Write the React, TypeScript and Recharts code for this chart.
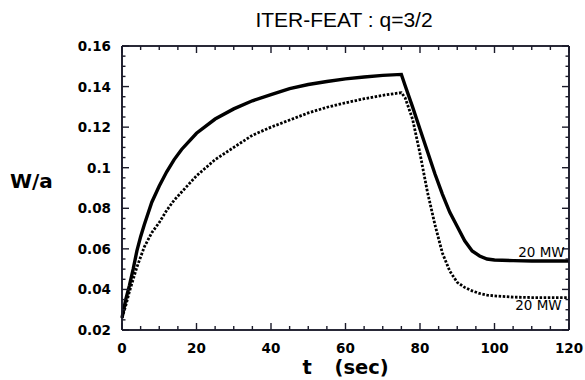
import { LineChart, Line, XAxis, YAxis, ReferenceDot, ReferenceLine } from 'recharts'

// time (sec)
const times = [
  0, 1, 2, 3, 4, 5, 6, 8, 10, 12, 14, 16, 20, 25, 30, 35, 40, 45, 50, 55, 60, 65, 70, 75,
  76, 78, 80, 82, 84, 86, 88, 90, 92, 94, 96, 98, 100, 105, 110, 115, 120,
]

// W/a, solid curve
const wSolid = [
  0.026, 0.035, 0.042, 0.05, 0.059, 0.066, 0.072, 0.083, 0.091, 0.098, 0.104, 0.109, 0.117,
  0.124, 0.129, 0.133, 0.136, 0.139, 0.141, 0.1425, 0.1438, 0.1447, 0.1455, 0.146,
  0.1405, 0.13, 0.119, 0.108, 0.097, 0.087, 0.078, 0.071, 0.064, 0.059, 0.0565, 0.055,
  0.0545, 0.0542, 0.054, 0.054, 0.054,
]

// W/a, dotted curve
const wDotted = [
  0.026, 0.032, 0.039, 0.045, 0.051, 0.056, 0.061, 0.068, 0.073, 0.079, 0.084, 0.088, 0.096,
  0.104, 0.11, 0.116, 0.12, 0.1235, 0.127, 0.1298, 0.132, 0.134, 0.1357, 0.137,
  0.1345, 0.124, 0.107, 0.088, 0.072, 0.058, 0.049, 0.0435, 0.041, 0.0393, 0.038, 0.0372,
  0.0368, 0.0362, 0.036, 0.036, 0.036,
]

const xMajorTicks = [0, 20, 40, 60, 80, 100, 120]
const xAllTicks = [
  0, 5, 10, 15, 20, 25, 30, 35, 40, 45, 50, 55, 60, 65, 70, 75, 80, 85, 90, 95, 100, 105, 110, 115, 120,
]
const yMajorTicks = [0.02, 0.04, 0.06, 0.08, 0.1, 0.12, 0.14, 0.16]
const yTickLabels = ['0.02', '0.04', '0.06', '0.08', '0.1', '0.12', '0.14', '0.16']
const yAllTicks = [
  0.02, 0.025, 0.03, 0.035, 0.04, 0.045, 0.05, 0.055, 0.06, 0.065, 0.07, 0.075, 0.08, 0.085,
  0.09, 0.095, 0.1, 0.105, 0.11, 0.115, 0.12, 0.125, 0.13, 0.135, 0.14, 0.145, 0.15, 0.155, 0.16,
]

const data = times.map((t, i) => ({ t, solid: wSolid[i], dotted: wDotted[i] }))

const ink = '#1b1b2a'
const frame = { stroke: ink, strokeWidth: 1.6 }
const tickW = 1.4
const tickFont = { fontFamily: 'DejaVu Sans', fontWeight: 'bold' as const, fontSize: 13.5 }

const majorY = (v: number) => yMajorTicks.findIndex((m) => Math.abs(m - v) < 1e-9)

const BottomTick = ({ x, y, payload }: any) => {
  const major = xMajorTicks.includes(payload.value)
  return (
    <g>
      <line x1={x} x2={x} y1={y} y2={y - (major ? 7 : 4)} stroke={ink} strokeWidth={tickW} />
      {major && (
        <text x={x} y={y + 23} textAnchor="middle" fill="#000" {...tickFont}>
          {payload.value}
        </text>
      )}
    </g>
  )
}

const TopTick = ({ x, y, payload }: any) => {
  const major = xMajorTicks.includes(payload.value)
  return <line x1={x} x2={x} y1={y} y2={y + (major ? 7 : 4)} stroke={ink} strokeWidth={tickW} />
}

const LeftTick = ({ x, y, payload }: any) => {
  const idx = majorY(payload.value)
  return (
    <g>
      <line x1={x} x2={x + (idx >= 0 ? 7 : 3.5)} y1={y} y2={y} stroke={ink} strokeWidth={tickW} />
      {idx >= 0 && (
        <text x={x - 11} y={y + 5} textAnchor="end" fill="#000" {...tickFont}>
          {yTickLabels[idx]}
        </text>
      )}
    </g>
  )
}

const RightTick = ({ x, y, payload }: any) => {
  const major = majorY(payload.value) >= 0
  return <line x1={x} x2={x - (major ? 7 : 3.5)} y1={y} y2={y} stroke={ink} strokeWidth={tickW} />
}

const XTitle = ({ viewBox }: any) => {
  const cx = viewBox.x + viewBox.width / 2
  return (
    <text y={viewBox.y + 44} fill="#000" fontFamily="DejaVu Sans" fontWeight="bold" fontSize={19.5}>
      <tspan x={cx - 43}>t</tspan>
      <tspan x={cx - 11}>(sec)</tspan>
    </text>
  )
}

const YTitle = ({ viewBox }: any) => (
  <text x={viewBox.x + 10} y={viewBox.y + 142} fill="#000" fontFamily="DejaVu Sans" fontWeight="bold" fontSize={20}>
    W/a
  </text>
)

const noteStyle = { fill: '#000', fontSize: 13.5, fontFamily: 'DejaVu Sans' }

export default function App() {
  return (
    <div style={{ position: 'absolute', left: 0, top: 0, width: 585, height: 380, overflow: 'hidden' }}>
      <div
        style={{
          position: 'absolute',
          left: 224,
          width: 240,
          top: 8,
          textAlign: 'center',
          fontFamily: 'Liberation Sans',
          fontSize: 21,
          color: '#000',
          whiteSpace: 'nowrap',
        }}
      >
        ITER-FEAT : q=3/2
      </div>
      <LineChart width={585} height={380} data={data} margin={{ top: 45, right: 15, bottom: 0, left: 0 }}>
        <XAxis
          xAxisId="bottom"
          dataKey="t"
          type="number"
          domain={[0, 120]}
          ticks={xAllTicks}
          interval={0}
          height={50}
          tickSize={0}
          tickMargin={0}
          tickLine={false}
          axisLine={frame}
          tick={<BottomTick />}
          label={<XTitle />}
        />
        <XAxis
          xAxisId="top"
          orientation="top"
          dataKey="t"
          type="number"
          domain={[0, 120]}
          ticks={xAllTicks}
          interval={0}
          height={1}
          tickSize={0}
          tickMargin={0}
          tickLine={false}
          axisLine={frame}
          tick={<TopTick />}
        />
        <YAxis
          yAxisId="left"
          type="number"
          domain={[0.02, 0.16]}
          ticks={yAllTicks}
          interval={0}
          width={122}
          tickSize={0}
          tickMargin={0}
          tickLine={false}
          axisLine={frame}
          tick={<LeftTick />}
          label={<YTitle />}
        />
        <YAxis
          yAxisId="right"
          orientation="right"
          type="number"
          domain={[0.02, 0.16]}
          ticks={yAllTicks}
          interval={0}
          width={1}
          tickSize={0}
          tickMargin={0}
          tickLine={false}
          axisLine={frame}
          tick={<RightTick />}
        />
        <ReferenceLine xAxisId="bottom" yAxisId="left" x={0} stroke={ink} strokeWidth={1.6} />
        <ReferenceLine xAxisId="bottom" yAxisId="left" x={120} stroke={ink} strokeWidth={1.6} />
        <ReferenceLine xAxisId="bottom" yAxisId="left" y={0.02} stroke={ink} strokeWidth={1.6} />
        <ReferenceLine xAxisId="bottom" yAxisId="left" y={0.16} stroke={ink} strokeWidth={1.6} />
        <Line
          xAxisId="top"
          yAxisId="right"
          type="linear"
          dataKey="dotted"
          stroke="#000"
          strokeWidth={2.8}
          strokeDasharray="2.5 1.6"
          dot={false}
          isAnimationActive={false}
        />
        <Line
          xAxisId="bottom"
          yAxisId="left"
          type="linear"
          dataKey="solid"
          stroke="#000"
          strokeWidth={3.4}
          dot={false}
          isAnimationActive={false}
        />
        <ReferenceDot
          xAxisId="bottom"
          yAxisId="left"
          x={112.6}
          y={0.0585}
          r={0}
          fill="none"
          stroke="none"
          label={{ value: '20 MW', position: 'center', ...noteStyle }}
        />
        <ReferenceDot
          xAxisId="bottom"
          yAxisId="left"
          x={111.8}
          y={0.0322}
          r={0}
          fill="none"
          stroke="none"
          label={{ value: '20 MW', position: 'center', ...noteStyle }}
        />
      </LineChart>
    </div>
  )
}
